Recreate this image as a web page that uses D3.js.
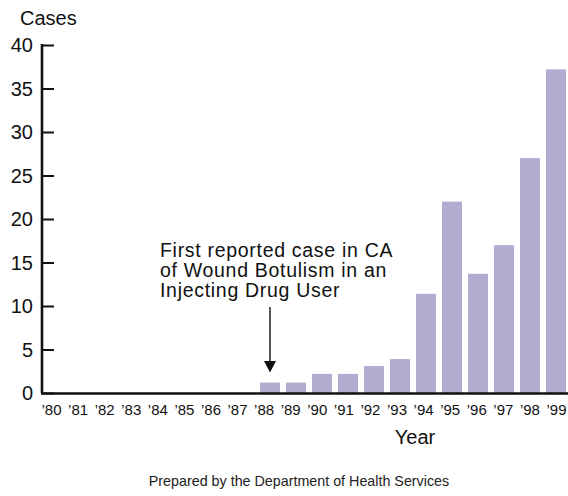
<!DOCTYPE html>
<html>
<head>
<meta charset="utf-8">
<script src="https://cdn.jsdelivr.net/npm/d3@7"></script>
<style>
  html, body { margin: 0; padding: 0; background: #fff; }
  svg { display: block; font-family: "Liberation Sans", Arial, Helvetica, sans-serif; }
</style>
</head>
<body>
<svg id="chart" width="568" height="496"></svg>
<script>
// ---- data ----
const years = ["1980","1981","1982","1983","1984","1985","1986","1987","1988","1989",
               "1990","1991","1992","1993","1994","1995","1996","1997","1998","1999"];
const yearLabels = ["\u201980","\u201981","\u201982","\u201983","\u201984","\u201985","\u201986","\u201987","\u201988","\u201989",
                    "\u201990","\u201991","\u201992","\u201993","\u201994","\u201995","\u201996","\u201997","\u201998","\u201999"];
const cases = [0,0,0,0,0,0,0,0,1.2,1.2,2.2,2.2,3.1,3.9,11.4,22,13.7,17,27,37.2];
const yTicks = [0,5,10,15,20,25,30,35,40];
const annotationLines = ["First reported case in CA","of Wound Botulism in an","Injecting Drug User"];
const annotationYear = "1988";
const yTitle = "Cases";
const xTitle = "Year";
const footer = "Prepared by the Department of Health Services";

// ---- chart ----
const svg = d3.select("#chart");
const barColor = "#b2add0";
const ink = "#111";

const x = d3.scaleBand().domain(years).range([49, 569])
  .paddingInner(6/26).paddingOuter(3/26);
const xLab = d3.scalePoint().domain(years).range([51, 556]);
const y = d3.scaleLinear().domain([0, 40]).range([393, 45]);

// bars
svg.append("g").selectAll("rect").data(years.map((yr, i) => ({yr, v: cases[i]})).filter(d => d.v > 0))
  .join("rect")
  .attr("x", d => x(d.yr))
  .attr("width", x.bandwidth())
  .attr("y", d => y(d.v))
  .attr("height", d => y(0) - y(d.v))
  .attr("fill", barColor);

// y axis (ticks pointing inward)
const yAxis = svg.append("g").attr("transform", "translate(42,0)")
  .call(d3.axisRight(y).tickValues(yTicks).tickSize(12).tickSizeOuter(0).tickFormat(""));
yAxis.select(".domain").attr("stroke", ink).attr("stroke-width", 2.6)
  .attr("d", `M0,${y(40)-1}V${y(0)}`);
yAxis.selectAll(".tick line").attr("stroke", ink).attr("stroke-width", 2);

// y tick labels
const yLab = svg.append("g").attr("transform", "translate(33,0)")
  .call(d3.axisLeft(y).tickValues(yTicks).tickSize(0).tickPadding(0));
yLab.select(".domain").remove();
yLab.selectAll("text").attr("font-size", 20).attr("fill", ink)
  .attr("font-family", "Liberation Sans, Arial, sans-serif").attr("dy", "0.34em");

// x axis line
svg.append("line").attr("x1", 41).attr("x2", 568).attr("y1", y(0)+0.5).attr("y2", y(0)+0.5)
  .attr("stroke", ink).attr("stroke-width", 2.6);

// x tick labels
const xAxisG = svg.append("g").attr("transform", `translate(0,${y(0)})`)
  .call(d3.axisBottom(xLab).tickSize(0).tickPadding(0).tickFormat((d, i) => yearLabels[i]));
xAxisG.select(".domain").remove();
xAxisG.selectAll("text").attr("font-size", 15).attr("fill", ink)
  .attr("font-family", "Liberation Sans, Arial, sans-serif").attr("dy", "0").attr("y", 22);

// titles
svg.append("text").attr("x", 20).attr("y", 25).attr("font-size", 20).attr("fill", ink).text(yTitle);
svg.append("text").attr("x", 415).attr("y", 444).attr("text-anchor", "middle")
  .attr("font-size", 20).attr("fill", ink).text(xTitle);
svg.append("text").attr("x", 299).attr("y", 486).attr("text-anchor", "middle")
  .attr("font-size", 14.3).attr("fill", "#222").text(footer);

// annotation
const ann = svg.append("text").attr("x", 160).attr("y", 256.7)
  .attr("font-size", 19.5).attr("letter-spacing", 0.7).attr("fill", ink);
annotationLines.forEach((t, i) => {
  ann.append("tspan").attr("x", 160).attr("y", 256.7 + i * 20).text(t);
});

// arrow
const ax = x(annotationYear) + x.bandwidth() / 2;
const tipY = y(cases[years.indexOf(annotationYear)]) - 10;
svg.append("line").attr("x1", ax).attr("x2", ax).attr("y1", 307).attr("y2", tipY - 8)
  .attr("stroke", ink).attr("stroke-width", 1.4);
svg.append("path")
  .attr("d", `M${ax-6},${tipY-11.5}L${ax+6},${tipY-11.5}L${ax},${tipY}Z`)
  .attr("fill", ink);
</script>
</body>
</html>
